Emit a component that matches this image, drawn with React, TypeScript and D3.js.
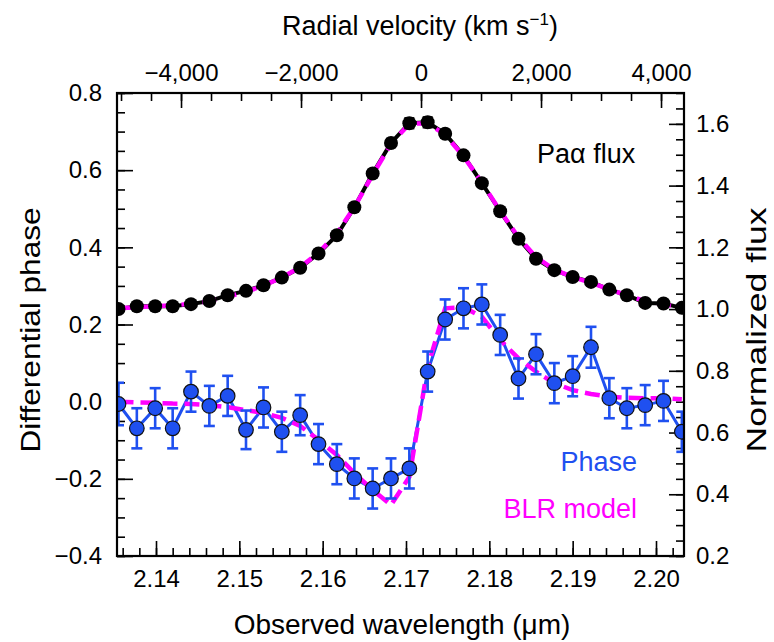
import React, { useEffect, useRef } from 'react';
import * as d3 from 'd3';

// observed wavelength of each spectral channel (µm)
const wavelength = [
  2.1355, 2.1377, 2.1399, 2.142, 2.1442, 2.1464, 2.1486, 2.1508, 2.1529, 2.1551, 2.1573, 2.1595, 2.1617, 2.1638, 2.166, 2.1682,
  2.1704, 2.1726, 2.1747, 2.1769, 2.1791, 2.1813, 2.1835, 2.1856, 2.1878, 2.19, 2.1922, 2.1944, 2.1965, 2.1987, 2.2009, 2.2031,
];
// Pa alpha normalized flux
const fluxData = [
  1.0, 1.009, 1.009, 1.009, 1.016, 1.026, 1.045, 1.059, 1.077, 1.102, 1.134, 1.18, 1.239, 1.33, 1.439, 1.538,
  1.602, 1.605, 1.568, 1.498, 1.408, 1.317, 1.228, 1.163, 1.126, 1.104, 1.088, 1.063, 1.045, 1.02, 1.018, 1.004,
];
const fluxErr = [
  0.005, 0.005, 0.005, 0.005, 0.005, 0.005, 0.005, 0.005, 0.005, 0.006, 0.006, 0.007, 0.008, 0.009, 0.011, 0.013,
  0.016, 0.016, 0.012, 0.01, 0.008, 0.007, 0.006, 0.006, 0.005, 0.005, 0.005, 0.005, 0.005, 0.005, 0.005, 0.005,
];
const fluxModel = [
  1.003, 1.006, 1.009, 1.012, 1.017, 1.025, 1.04, 1.056, 1.076, 1.102, 1.136, 1.182, 1.245, 1.33, 1.435, 1.535,
  1.6, 1.602, 1.565, 1.495, 1.41, 1.318, 1.232, 1.168, 1.128, 1.104, 1.085, 1.064, 1.044, 1.026, 1.015, 1.006,
];
// differential phase
const phaseData = [
  -0.006, -0.069, -0.017, -0.069, 0.026, -0.011, 0.015, -0.073, -0.015, -0.078, -0.035, -0.11, -0.162, -0.199, -0.225, -0.199,
  -0.173, 0.078, 0.213, 0.242, 0.252, 0.173, 0.06, 0.123, 0.048, 0.066, 0.141, 0.009, -0.017, -0.009, 0.002, -0.078,
];
const phaseErr = [
  0.055, 0.052, 0.052, 0.052, 0.052, 0.052, 0.052, 0.05, 0.052, 0.052, 0.052, 0.052, 0.052, 0.052, 0.052, 0.052,
  0.052, 0.052, 0.052, 0.052, 0.052, 0.052, 0.052, 0.052, 0.052, 0.052, 0.053, 0.052, 0.052, 0.052, 0.052, 0.052,
];
const phaseModel = [
  0.0, -0.002, -0.003, -0.005, -0.006, -0.009, -0.014, -0.022, -0.029, -0.042, -0.063, -0.099, -0.138, -0.185, -0.229, -0.268,
  -0.195, 0.09, 0.242, 0.245, 0.22, 0.16, 0.112, 0.078, 0.048, 0.03, 0.02, 0.013, 0.01, 0.009, 0.009, 0.006,
];
// tick labels
const wavelengthTicks = [2.14, 2.15, 2.16, 2.17, 2.18, 2.19, 2.2];
const velocityTicks = [-4000, -2000, 0, 2000, 4000];
const phaseTicks = [-0.4, -0.2, 0.0, 0.2, 0.4, 0.6, 0.8];
const fluxTicks = [0.2, 0.4, 0.6, 0.8, 1.0, 1.2, 1.4, 1.6];

const BLUE = '#1f50f0';
const MAGENTA = '#ff00ff';
const FONT = '"Liberation Sans", Arial, Helvetica, sans-serif';

export default function App() {
  const ref = useRef<SVGSVGElement>(null);

  useEffect(() => {
    document.body.style.margin = '0';
    draw();
    // eslint-disable-next-line react-hooks/exhaustive-deps
  }, []);

  function draw() {
    const svg = d3.select(ref.current);
    svg.selectAll('*').remove();
    const left = 117;
    const right = 684;
    const top = 93;
    const bottom = 556;

    const x = d3.scaleLinear().domain([2.13532, 2.20336]).range([left, right]);
    const v = d3.scaleLinear().domain([-5067, 4383]).range([left, right]);
    const yL = d3.scaleLinear().domain([-0.4, 0.8]).range([bottom, top]);
    const yR = d3.scaleLinear().domain([0.2, 1.7]).range([bottom, top]);

    const styleAxis = (g) => {
      g.select('.domain').remove();
      g.selectAll('line').attr('stroke', '#000').attr('stroke-width', 1.6);
      g.selectAll('text').attr('font-size', 24).attr('font-family', FONT).attr('fill', '#000');
    };

    // minor ticks
    const minor = (axis, vals) => axis.tickValues(vals).tickSize(-8).tickFormat(() => '');
    svg.append('g').attr('transform', `translate(0,${bottom})`)
      .call(minor(d3.axisBottom(x), d3.range(2.136, 2.2035, 0.002))).call(styleAxis);
    svg.append('g').attr('transform', `translate(0,${top})`)
      .call(minor(d3.axisTop(v), d3.range(-5000, 4400, 500))).call(styleAxis);
    svg.append('g').attr('transform', `translate(${left},0)`)
      .call(minor(d3.axisLeft(yL), d3.range(-0.4, 0.801, 0.05))).call(styleAxis);
    svg.append('g').attr('transform', `translate(${right},0)`)
      .call(minor(d3.axisRight(yR), d3.range(0.2, 1.701, 0.05))).call(styleAxis);

    // major ticks
    svg.append('g').attr('transform', `translate(0,${bottom})`)
      .call(d3.axisBottom(x).tickValues(wavelengthTicks).tickSize(-15).tickPadding(14).tickFormat(d3.format('.2f')))
      .call(styleAxis);
    svg.append('g').attr('transform', `translate(0,${top})`)
      .call(d3.axisTop(v).tickValues(velocityTicks).tickSize(-15).tickPadding(12).tickFormat(d3.format(',')))
      .call(styleAxis);
    svg.append('g').attr('transform', `translate(${left},0)`)
      .call(d3.axisLeft(yL).tickValues(phaseTicks).tickSize(-16).tickPadding(15).tickFormat(d3.format('.1f')))
      .call(styleAxis);
    svg.append('g').attr('transform', `translate(${right},0)`)
      .call(d3.axisRight(yR).tickValues(fluxTicks).tickSize(-15).tickPadding(12).tickFormat(d3.format('.1f')))
      .call(styleAxis);

    svg.append('defs').append('clipPath').attr('id', 'plot-clip')
      .append('rect').attr('x', left).attr('y', top).attr('width', right - left).attr('height', bottom - top);
    const plot = svg.append('g').attr('clip-path', 'url(#plot-clip)');
    const idx = d3.range(wavelength.length);

    // flux
    const fluxLine = d3.line<number>().x((i) => x(wavelength[i])).y((i) => yR(fluxData[i]));
    const fluxModelLine = d3.line<number>().x((i) => x(wavelength[i])).y((i) => yR(fluxModel[i]));
    plot.append('path').attr('d', fluxLine(idx)).attr('fill', 'none').attr('stroke', '#000').attr('stroke-width', 4);
    plot.append('path').attr('d', fluxModelLine(idx)).attr('fill', 'none').attr('stroke', MAGENTA)
      .attr('stroke-width', 4.5).attr('stroke-dasharray', '14,7');
    const fErr = plot.append('g').attr('stroke', '#000').attr('stroke-width', 2.5);
    idx.forEach((i) => {
      const cx = x(wavelength[i]);
      const y1 = yR(fluxData[i] + fluxErr[i]);
      const y2 = yR(fluxData[i] - fluxErr[i]);
      fErr.append('line').attr('x1', cx).attr('x2', cx).attr('y1', y1).attr('y2', y2);
      fErr.append('line').attr('x1', cx - 5).attr('x2', cx + 5).attr('y1', y1).attr('y2', y1);
      fErr.append('line').attr('x1', cx - 5).attr('x2', cx + 5).attr('y1', y2).attr('y2', y2);
    });
    plot.selectAll('.flux-dot').data(idx).enter().append('circle')
      .attr('cx', (i) => x(wavelength[i])).attr('cy', (i) => yR(fluxData[i])).attr('r', 7).attr('fill', '#000');

    // phase
    const phaseLine = d3.line<number>().x((i) => x(wavelength[i])).y((i) => yL(phaseData[i]));
    const phaseModelLine = d3.line<number>().x((i) => x(wavelength[i])).y((i) => yL(phaseModel[i]));
    plot.append('path').attr('d', phaseLine(idx)).attr('fill', 'none').attr('stroke', BLUE).attr('stroke-width', 3);
    plot.append('path').attr('d', phaseModelLine(idx)).attr('fill', 'none').attr('stroke', MAGENTA)
      .attr('stroke-width', 4.5).attr('stroke-dasharray', '15,7');
    const pErr = plot.append('g').attr('stroke', BLUE).attr('stroke-width', 2.6);
    idx.forEach((i) => {
      const cx = x(wavelength[i]);
      const y1 = yL(phaseData[i] + phaseErr[i]);
      const y2 = yL(phaseData[i] - phaseErr[i]);
      pErr.append('line').attr('x1', cx).attr('x2', cx).attr('y1', y1).attr('y2', y2);
      pErr.append('line').attr('x1', cx - 5.5).attr('x2', cx + 5.5).attr('y1', y1).attr('y2', y1);
      pErr.append('line').attr('x1', cx - 5.5).attr('x2', cx + 5.5).attr('y1', y2).attr('y2', y2);
    });
    plot.selectAll('.phase-dot').data(idx).enter().append('circle')
      .attr('cx', (i) => x(wavelength[i])).attr('cy', (i) => yL(phaseData[i])).attr('r', 7.3)
      .attr('fill', BLUE).attr('stroke', '#111').attr('stroke-width', 1.2);

    // frame
    svg.append('rect').attr('x', left).attr('y', top).attr('width', right - left).attr('height', bottom - top)
      .attr('fill', 'none').attr('stroke', '#000').attr('stroke-width', 2.2);

    // in-plot labels
    svg.append('text').attr('x', 537).attr('y', 163).attr('font-size', 27).attr('font-family', FONT).text('Paα flux');
    svg.append('text').attr('x', 637).attr('y', 471).attr('text-anchor', 'end').attr('font-size', 27)
      .attr('font-family', FONT).attr('fill', BLUE).text('Phase');
    svg.append('text').attr('x', 637).attr('y', 518).attr('text-anchor', 'end').attr('font-size', 27)
      .attr('font-family', FONT).attr('fill', MAGENTA).text('BLR model');

    // axis titles
    const topTitle = svg.append('text').attr('x', 420).attr('y', 35).attr('text-anchor', 'middle')
      .attr('font-size', 27).attr('font-family', FONT);
    topTitle.append('tspan').text('Radial velocity (km s');
    topTitle.append('tspan').attr('dy', -10).attr('font-size', 17).text('−1');
    topTitle.append('tspan').attr('dy', 10).text(')');
    svg.append('text').attr('x', 402).attr('y', 634).attr('text-anchor', 'middle').attr('font-size', 28)
      .attr('font-family', FONT).text('Observed wavelength (μm)');
    svg.append('text').attr('transform', 'translate(40,330) rotate(-90)').attr('text-anchor', 'middle')
      .attr('font-size', 28).attr('font-family', FONT).attr('textLength', 245).attr('lengthAdjust', 'spacingAndGlyphs')
      .text('Differential phase');
    svg.append('text').attr('transform', 'translate(766,330) rotate(-90)').attr('text-anchor', 'middle')
      .attr('font-size', 28).attr('font-family', FONT).attr('textLength', 245).attr('lengthAdjust', 'spacingAndGlyphs')
      .text('Normalized flux');
  }

  return <svg ref={ref} width={774} height={642} style={{ display: 'block', background: '#fff' }}></svg>;
}
